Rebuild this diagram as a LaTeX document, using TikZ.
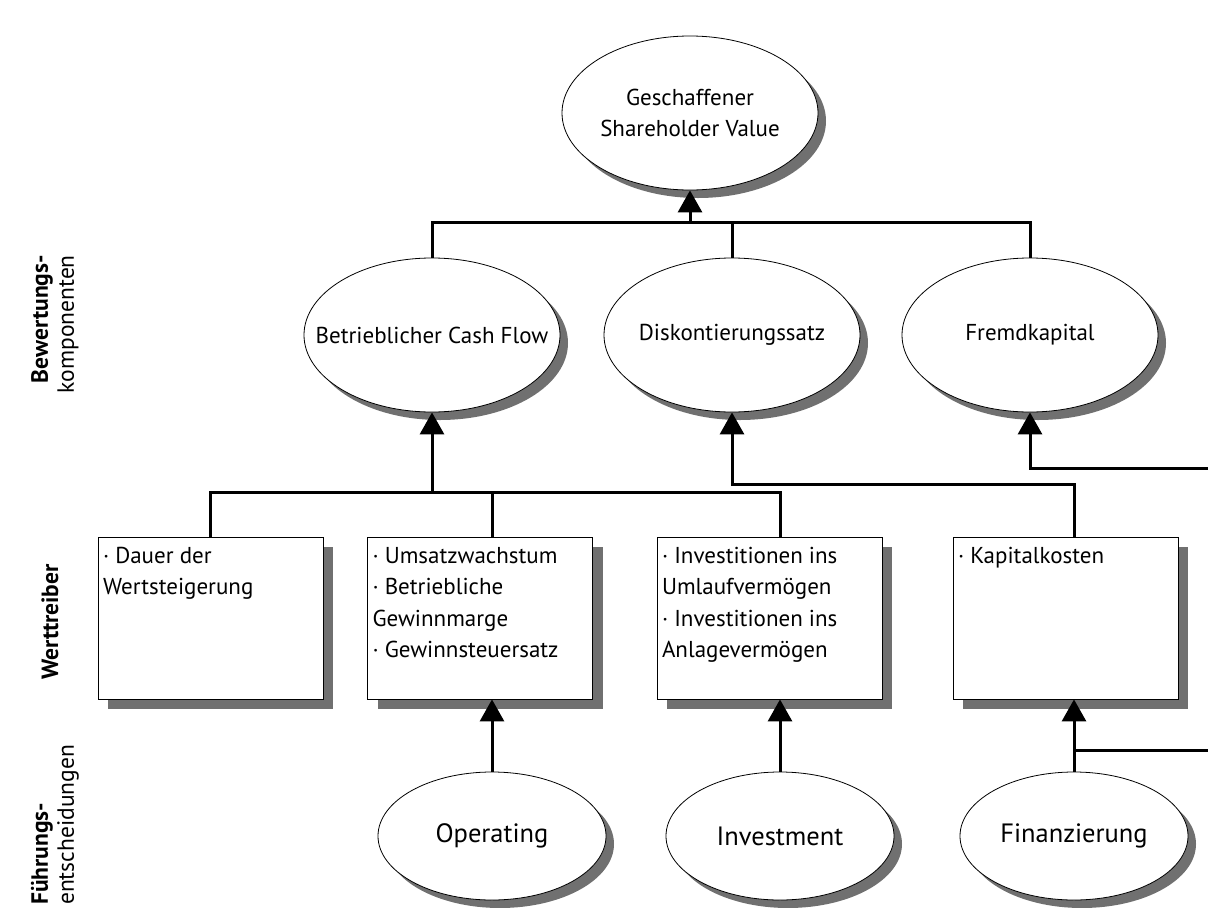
\documentclass[tikz,border=0pt]{standalone}
\usepackage{fontspec}
\setmainfont{PT Sans}
\usetikzlibrary{shapes.geometric,shadows,arrows.meta}

% zero width text, so the ellipse keeps its size
\newcommand{\ct}[1]{\makebox[0pt]{#1}}
\newcommand{\boxtext}[1]{\begin{minipage}[t][142pt][t]{215pt}\fontsize{23}{31.5}\selectfont #1\end{minipage}}

\begin{document}
\begin{tikzpicture}[x=1pt, y=-1pt, font=\fontsize{23}{31}\selectfont,
    ell/.style = {draw, ellipse, fill=white, line width=0.8pt, minimum width=256pt, minimum height=154pt, inner sep=0pt, align=center,
        drop shadow={shadow xshift=8pt, shadow yshift=-8pt, fill=black!56, opacity=1}},
    small/.style = {ell, minimum width=228pt, minimum height=128pt, font=\fontsize{26.5}{30}\selectfont},
    box/.style = {draw, rectangle, fill=white, line width=0.8pt, minimum width=225pt, minimum height=162pt, inner sep=0pt,
        drop shadow={shadow xshift=10pt, shadow yshift=-10pt, fill=black!56, opacity=1}},
    line/.style = {line width=3pt},
    arr/.style = {line, -{Triangle[width=24pt, length=22pt]}},
    lbl/.style = {rotate=90, inner sep=0pt, font=\fontsize{23.5}{26}\selectfont}]
    \useasboundingbox (0,0) rectangle (1208,908);

    % Bewertungskomponenten
    \node[ell] (sv) at (690,113) {\ct{Geschaffener}\\\ct{Shareholder Value}};
    \node[ell] (bcf) at (432,335) {\ct{Betrieblicher Cash Flow}};
    \node[ell] (dks) at (732,335) {\ct{Diskontierungssatz}};
    \node[ell] (fk) at (1030,335) {\ct{Fremdkapital}};

    % Werttreiber
    \node[box] (b1) at (210.5,618) {\boxtext{· Dauer der\\Wertsteigerung}};
    \node[box] (b2) at (480,618) {\boxtext{· Umsatzwachstum\\· Betriebliche\\Gewinnmarge\\· Gewinnsteuersatz}};
    \node[box] (b3) at (769.5,618) {\boxtext{· Investitionen ins\\Umlaufvermögen\\· Investitionen ins\\Anlagevermögen}};
    \node[box] (b4) at (1065.5,618) {\boxtext{· Kapitalkosten}};

    % Fuehrungsentscheidungen
    \node[small] (op) at (492,836) {\ct{Operating}};
    \node[small] (inv) at (780,836) {\ct{Investment}};
    \node[small] (fin) at (1074,836) {\ct{Finanzierung}};

    % labels left
    \node[lbl, align=right, anchor=east] (lbw) at (55,255) {\textbf{Bewertungs-}\\komponenten};
    \node[lbl, align=center] (lwt) at (50,622) {\textbf{Werttreiber}};
    \node[lbl, align=left, anchor=west] (lfe) at (55,905) {\textbf{Führungs-}\\entscheidungen};

    \coordinate (j1) at (690,222);
    \coordinate (j2) at (432,492);
    \coordinate (j3) at (732,484);
    \coordinate (r1) at (1208,468);
    \coordinate (r2) at (1208,750);

    \draw[line] (bcf.north) |- (fk.north |- j1) -- (fk.north);
    \draw[line] (dks.north) -- (dks.north |- j1);
    \draw[arr] (j1) -- (sv.south);

    \draw[line] (b1.north) |- (inv.north |- j2) -- (inv.north |- b3.north);
    \draw[line] (op.north |- b2.north) -- (op.north |- j2);
    \draw[arr] (j2) -- (bcf.south);

    \draw[arr] (fin.north |- b4.north) |- (j3) -- (dks.south);
    \draw[arr] (r1) -| (fk.south);

    \draw[arr] (op.north) -- (op.north |- b2.south);
    \draw[arr] (inv.north) -- (inv.north |- b3.south);
    \draw[arr] (fin.north) -- (fin.north |- b4.south);
    \draw[line] (fin.north |- r2) -- (r2);
\end{tikzpicture}
\end{document}
